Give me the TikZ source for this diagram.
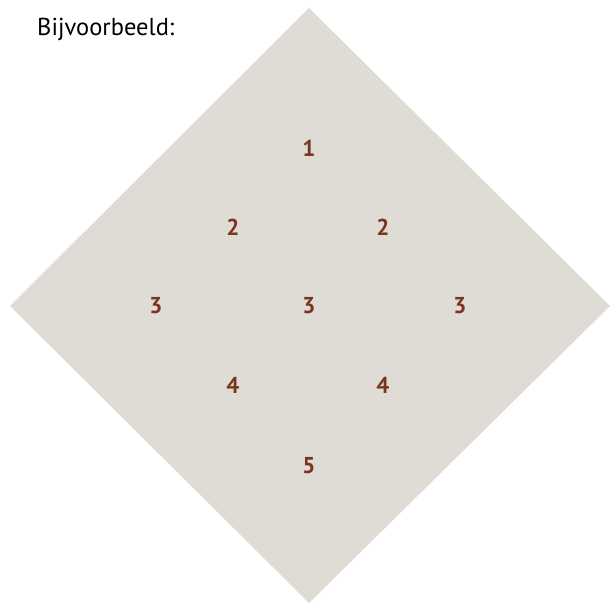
\documentclass[tikz,border=0pt]{standalone}
\usepackage{fontspec}
\setmainfont{PT Sans}
\definecolor{diamondfill}{HTML}{DFDCD5}
\definecolor{numcol}{HTML}{7A3521}
\begin{document}
\begin{tikzpicture}[x=1pt,y=-1pt,
  num/.style={text=numcol,font=\fontsize{23}{27}\selectfont\bfseries,inner sep=0pt,anchor=center},
  label/.style={font=\fontsize{24.5}{29}\selectfont,inner sep=0pt,anchor=base west}]
\useasboundingbox (0,0) rectangle (612,602);
\fill[diamondfill] (309,8) -- (610,306) -- (309,603) -- (10,306) -- cycle;
\node[label] (lbl) at (37,36) {Bijvoorbeeld:};
\node[num] (n1) at (309,148) {1};
\node[num] (n2a) at (233,227) {2};
\node[num] (n2b) at (383,227) {2};
\node[num] (n3a) at (156,306) {3};
\node[num] (n3b) at (309,306) {3};
\node[num] (n3c) at (460,306) {3};
\node[num] (n4a) at (233,385) {4};
\node[num] (n4b) at (383,385) {4};
\node[num] (n5) at (309,466) {5};
\end{tikzpicture}
\end{document}
